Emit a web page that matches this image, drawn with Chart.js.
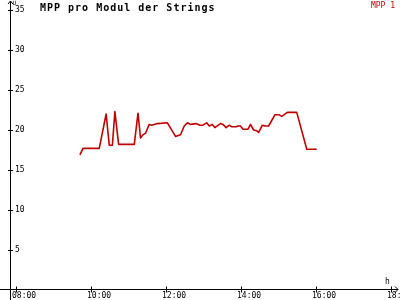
<!DOCTYPE html>
<html lang="de">
<head>
    <meta charset="UTF-8">
    <title>MPP pro Modul der Strings</title>
    <style>
        body {
    margin: 0;
    background-color: #fff;
}

.chart-box {
    width: 400px;
    height: 300px;
}
    </style>
    <script src="https://cdn.jsdelivr.net/npm/chart.js"></script>
</head>
<body>

    <div class="chart-box">
        <canvas id="mppChart" width="400" height="300"></canvas>
    </div>

    <script>
// Messzeitpunkte und Werte (U) fuer MPP 1
const times = ["09:43", "09:48", "10:14", "10:25", "10:30", "10:35", "10:39", "10:45", "11:10", "11:16",
    "11:20", "11:24", "11:28", "11:34", "11:38", "11:47", "12:03", "12:16", "12:24", "12:30",
    "12:35", "12:40", "12:49", "12:55", "13:00", "13:06", "13:10", "13:15", "13:19", "13:28",
    "13:32", "13:37", "13:42", "13:46", "13:53", "13:56", "14:00", "14:04", "14:12", "14:16",
    "14:21", "14:26", "14:29", "14:35", "14:39", "14:45", "14:55", "15:02", "15:06", "15:15",
    "15:30", "15:46", "16:02"];
const mpp1 = [16.9, 17.7, 17.7, 22.0, 18.1, 18.1, 22.3, 18.2, 18.2, 22.1,
    19.0, 19.4, 19.6, 20.7, 20.6, 20.8, 20.9, 19.2, 19.4, 20.5,
    20.9, 20.7, 20.8, 20.6, 20.6, 20.9, 20.5, 20.7, 20.3, 20.8,
    20.7, 20.3, 20.6, 20.4, 20.4, 20.5, 20.5, 20.1, 20.1, 20.7,
    20.0, 19.9, 19.7, 20.6, 20.5, 20.5, 21.9, 21.9, 21.7, 22.2,
    22.2, 17.6, 17.6];
const seriesName = "MPP 1";
const yTicks = [5, 10, 15, 20, 25, 30, 35];
const xTicks = [8, 10, 12, 14, 16, 18];

const mono = "'DejaVu Sans Mono', 'Liberation Mono', monospace";
const red = "#c00000";

function toHours(t) {
    const p = t.split(":");
    return Number(p[0]) + Number(p[1]) / 60;
}

// Achsen mit Pfeilen, Strichen und Beschriftung selbst zeichnen
const axesPlugin = {
    id: "axes",
    afterDraw(chart) {
        const ctx = chart.ctx;
        const xs = chart.scales.x;
        const ys = chart.scales.y;
        const x0 = Math.round(chart.chartArea.left) + 0.5;
        const y0 = Math.round(ys.getPixelForValue(0)) - 0.5;

        ctx.save();
        ctx.strokeStyle = "#000";
        ctx.lineWidth = 1;
        ctx.beginPath();
        // y-Achse
        ctx.moveTo(x0, 300);
        ctx.lineTo(x0, 1);
        ctx.moveTo(x0 - 2.5, 4);
        ctx.lineTo(x0, 1);
        ctx.lineTo(x0 + 2.5, 4);
        // x-Achse
        ctx.moveTo(0, y0);
        ctx.lineTo(398, y0);
        ctx.moveTo(395, y0 - 3);
        ctx.lineTo(398, y0);
        ctx.lineTo(395, y0 + 3);
        yTicks.forEach(v => {
            const py = Math.round(ys.getPixelForValue(v)) + 0.5;
            ctx.moveTo(x0 - 2.5, py);
            ctx.lineTo(x0 + 2.5, py);
        });
        xTicks.forEach(v => {
            const px = Math.round(xs.getPixelForValue(v)) + 0.5;
            ctx.moveTo(px, y0 - 3);
            ctx.lineTo(px, y0 + 3);
        });
        ctx.stroke();

        ctx.fillStyle = "#000";
        ctx.textBaseline = "alphabetic";
        ctx.font = "6px " + mono;
        ctx.fillText("U", x0 + 2, 5);
        ctx.font = "8px " + mono;
        ctx.fillText("h", 385, 284);

        ctx.font = "bold 10px " + mono;
        ctx.letterSpacing = "1px";
        ctx.fillText("MPP pro Modul der Strings", 40, 11);
        ctx.letterSpacing = "0px";

        ctx.fillStyle = red;
        ctx.font = "8px " + mono;
        ctx.textAlign = "right";
        ctx.fillText(seriesName, 395, 7.5);
        ctx.restore();
    }
};

document.addEventListener("DOMContentLoaded", function () {
    const ctx = document.getElementById("mppChart").getContext("2d");

    new Chart(ctx, {
        type: "line",
        data: {
            datasets: [{
                label: seriesName,
                data: times.map((t, i) => ({ x: toHours(t), y: mpp1[i] })),
                borderColor: red,
                backgroundColor: red,
                borderWidth: 1.6,
                borderJoinStyle: "round",
                pointRadius: 0,
                tension: 0
            }]
        },
        options: {
            responsive: false,
            animation: false,
            layout: { padding: { top: 1, right: 2, left: 0, bottom: 0 } },
            plugins: {
                legend: { display: false },
                tooltip: { enabled: false }
            },
            scales: {
                x: {
                    type: "linear",
                    min: 7.8533,
                    max: 18.2,
                    grid: { display: false, drawTicks: false },
                    border: { display: false },
                    afterFit: s => { s.height = 10; s.paddingLeft = 0; s.paddingRight = 0; },
                    afterBuildTicks: s => { s.ticks = xTicks.map(v => ({ value: v })); },
                    ticks: {
                        autoSkip: false,
                        maxRotation: 0,
                        align: "start",
                        labelOffset: -3.5,
                        padding: 2,
                        color: "#000",
                        font: { family: mono, size: 8, lineHeight: 1 },
                        callback: v => String(v).padStart(2, "0") + ":00"
                    }
                },
                y: {
                    min: 0,
                    max: 36.125,
                    grid: { display: false, drawTicks: false },
                    border: { display: false },
                    afterFit: s => { s.width = 10; s.paddingTop = 0; s.paddingBottom = 0; },
                    afterBuildTicks: s => { s.ticks = yTicks.map(v => ({ value: v })); },
                    ticks: {
                        mirror: true,
                        padding: 5,
                        color: "#000",
                        font: { family: mono, size: 8, lineHeight: 1 }
                    }
                }
            }
        },
        plugins: [axesPlugin]
    });
});
    </script>
</body>
</html>
